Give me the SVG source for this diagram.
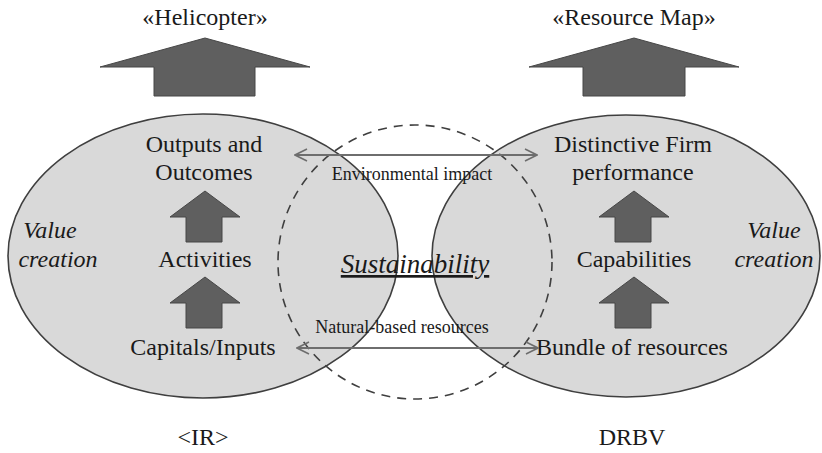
<svg xmlns="http://www.w3.org/2000/svg" width="822" height="453" viewBox="0 0 822 453">
  <style>
    .t { font-family: "Liberation Serif", "Times New Roman", serif; fill: #1a1a1a; }
    .lbl { font-size: 24px; text-anchor: middle; }
    .it { font-style: italic; }
    .small { font-size: 18px; text-anchor: middle; }
    .oval { fill: #d9d9d9; stroke: #3f3f3f; stroke-width: 1.6; }
    .up { fill: #5f5f5f; stroke: #474747; stroke-width: 1; }
    .link { stroke: #6e6e6e; stroke-width: 1.8; fill: none; marker-start: url(#head); marker-end: url(#head); }
  </style>
  <defs>
    <marker id="head" viewBox="0 0 14 14" refX="13" refY="7" markerWidth="14" markerHeight="14" markerUnits="userSpaceOnUse" orient="auto-start-reverse">
      <path d="M1,1 L13,7 L1,13" fill="none" stroke="#6e6e6e" stroke-width="1.6"/>
    </marker>
    <!-- small up arrow, apex at origin -->
    <path id="smallUp" d="M0,0 L35,26 L17,26 L17,51 L-19,51 L-19,26 L-35,26 Z"/>
  </defs>

  <rect width="822" height="453" fill="#ffffff"/>

  <!-- left side: integrated reporting -->
  <g id="ir">
    <ellipse class="oval" cx="203" cy="256" rx="195" ry="142"/>
    <text class="t lbl" x="204" y="152">Outputs and</text>
    <text class="t lbl" x="204" y="180">Outcomes</text>
    <use href="#smallUp" class="up" x="205" y="191"/>
    <text class="t lbl" x="205" y="267">Activities</text>
    <use href="#smallUp" class="up" x="205" y="277"/>
    <text class="t lbl" x="203" y="355">Capitals/Inputs</text>
    <text class="t lbl it" x="50" y="238">Value</text>
    <text class="t lbl it" x="58" y="267">creation</text>
  </g>

  <!-- right side: dynamic resource-based view -->
  <g id="drbv">
    <ellipse class="oval" cx="626" cy="256" rx="194" ry="141"/>
    <text class="t lbl" x="633" y="152">Distinctive Firm</text>
    <text class="t lbl" x="633" y="180">performance</text>
    <use href="#smallUp" class="up" x="634" y="191"/>
    <text class="t lbl" x="634" y="267">Capabilities</text>
    <use href="#smallUp" class="up" x="634" y="277"/>
    <text class="t lbl" x="632" y="355">Bundle of resources</text>
    <text class="t lbl it" x="774" y="238">Value</text>
    <text class="t lbl it" x="774" y="267">creation</text>
  </g>

  <!-- sustainability overlap -->
  <g id="sustainability">
    <circle cx="415" cy="262" r="137" fill="none" stroke="#3f3f3f" stroke-width="1.6" stroke-dasharray="9,7"/>
    <text class="t it" x="415" y="273" font-size="27" text-anchor="middle" text-decoration="underline">Sustainability</text>
  </g>

  <!-- top perspective arrows -->
  <g id="helicopter">
    <text class="t lbl" x="205" y="25">«Helicopter»</text>
    <path class="up" d="M205,38 L310,67 L255,67 L255,96 L154,96 L154,67 L100,67 Z"/>
  </g>
  <g id="resource-map">
    <text class="t lbl" x="634" y="25">«Resource Map»</text>
    <path class="up" d="M634,38 L739,67 L685,67 L685,96 L583,96 L583,67 L529,67 Z"/>
  </g>

  <!-- bottom captions -->
  <g id="caption-ir">
    <text class="t lbl" x="203" y="445">&lt;IR&gt;</text>
  </g>
  <g id="caption-drbv">
    <text class="t lbl" x="632" y="445">DRBV</text>
  </g>

  <!-- connectors -->
  <g id="connectors">
    <line class="link" x1="295" y1="155" x2="537" y2="155"/>
    <text class="t small" x="412" y="180">Environmental impact</text>
    <line class="link" x1="297" y1="348" x2="538" y2="348"/>
    <text class="t small" x="402" y="333">Natural-based resources</text>
  </g>
</svg>
